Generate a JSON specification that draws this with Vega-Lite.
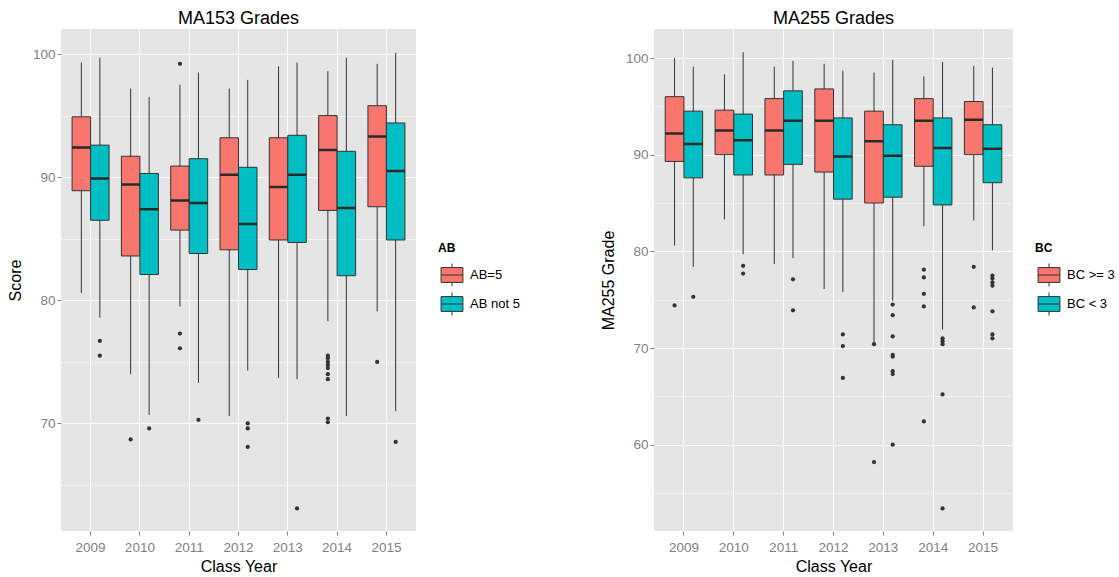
{
  "$schema": "https://vega.github.io/schema/vega-lite/v6.json",
  "background": "white",
  "padding": {"left": 7, "top": 10, "right": 5, "bottom": 5},
  "bounds": "flush",
  "spacing": 238,
  "datasets": {
    "ma153": [
      {"year": "2009", "group": "AB=5", "lower": 80.6, "q1": 88.9, "median": 92.4, "q3": 94.9, "upper": 99.3},
      {"year": "2009", "group": "AB not 5", "lower": 78.6, "q1": 86.5, "median": 89.9, "q3": 92.6, "upper": 99.7},
      {"year": "2010", "group": "AB=5", "lower": 74.0, "q1": 83.6, "median": 89.4, "q3": 91.7, "upper": 97.2},
      {"year": "2010", "group": "AB not 5", "lower": 70.7, "q1": 82.1, "median": 87.4, "q3": 90.3, "upper": 96.5},
      {"year": "2011", "group": "AB=5", "lower": 79.5, "q1": 85.7, "median": 88.1, "q3": 90.9, "upper": 97.5},
      {"year": "2011", "group": "AB not 5", "lower": 73.3, "q1": 83.8, "median": 87.9, "q3": 91.5, "upper": 98.5},
      {"year": "2012", "group": "AB=5", "lower": 70.6, "q1": 84.1, "median": 90.2, "q3": 93.2, "upper": 97.2},
      {"year": "2012", "group": "AB not 5", "lower": 74.3, "q1": 82.5, "median": 86.2, "q3": 90.8, "upper": 97.9},
      {"year": "2013", "group": "AB=5", "lower": 73.7, "q1": 84.9, "median": 89.2, "q3": 93.2, "upper": 99.0},
      {"year": "2013", "group": "AB not 5", "lower": 73.6, "q1": 84.7, "median": 90.2, "q3": 93.4, "upper": 99.3},
      {"year": "2014", "group": "AB=5", "lower": 78.3, "q1": 87.3, "median": 92.2, "q3": 95.0, "upper": 98.6},
      {"year": "2014", "group": "AB not 5", "lower": 70.6, "q1": 82.0, "median": 87.5, "q3": 92.1, "upper": 99.7},
      {"year": "2015", "group": "AB=5", "lower": 79.1, "q1": 87.6, "median": 93.3, "q3": 95.8, "upper": 99.2},
      {"year": "2015", "group": "AB not 5", "lower": 71.0, "q1": 84.9, "median": 90.5, "q3": 94.4, "upper": 100.1}
    ],
    "ma153out": [
      {"year": "2009", "group": "AB not 5", "value": 76.7},
      {"year": "2009", "group": "AB not 5", "value": 75.5},
      {"year": "2010", "group": "AB=5", "value": 68.7},
      {"year": "2010", "group": "AB not 5", "value": 69.6},
      {"year": "2011", "group": "AB=5", "value": 99.2},
      {"year": "2011", "group": "AB=5", "value": 77.3},
      {"year": "2011", "group": "AB=5", "value": 76.1},
      {"year": "2011", "group": "AB not 5", "value": 70.3},
      {"year": "2012", "group": "AB not 5", "value": 70.0},
      {"year": "2012", "group": "AB not 5", "value": 69.6},
      {"year": "2012", "group": "AB not 5", "value": 68.1},
      {"year": "2013", "group": "AB not 5", "value": 63.1},
      {"year": "2014", "group": "AB=5", "value": 75.5},
      {"year": "2014", "group": "AB=5", "value": 75.3},
      {"year": "2014", "group": "AB=5", "value": 75.0},
      {"year": "2014", "group": "AB=5", "value": 74.75},
      {"year": "2014", "group": "AB=5", "value": 74.5},
      {"year": "2014", "group": "AB=5", "value": 74.0},
      {"year": "2014", "group": "AB=5", "value": 73.6},
      {"year": "2014", "group": "AB=5", "value": 70.4},
      {"year": "2014", "group": "AB=5", "value": 70.1},
      {"year": "2015", "group": "AB=5", "value": 75.0},
      {"year": "2015", "group": "AB not 5", "value": 68.5}
    ],
    "ma255": [
      {"year": "2009", "group": "BC >= 3", "lower": 80.6, "q1": 89.3, "median": 92.2, "q3": 96.0, "upper": 100.0},
      {"year": "2009", "group": "BC < 3", "lower": 78.4, "q1": 87.6, "median": 91.1, "q3": 94.5, "upper": 99.1},
      {"year": "2010", "group": "BC >= 3", "lower": 83.3, "q1": 90.0, "median": 92.5, "q3": 94.6, "upper": 98.3},
      {"year": "2010", "group": "BC < 3", "lower": 79.7, "q1": 87.9, "median": 91.5, "q3": 94.2, "upper": 100.6},
      {"year": "2011", "group": "BC >= 3", "lower": 78.7, "q1": 87.9, "median": 92.5, "q3": 95.8, "upper": 99.1},
      {"year": "2011", "group": "BC < 3", "lower": 79.3, "q1": 89.0, "median": 93.5, "q3": 96.6, "upper": 99.7},
      {"year": "2012", "group": "BC >= 3", "lower": 76.1, "q1": 88.2, "median": 93.5, "q3": 96.8, "upper": 99.4},
      {"year": "2012", "group": "BC < 3", "lower": 75.8, "q1": 85.4, "median": 89.8, "q3": 93.8, "upper": 98.7},
      {"year": "2013", "group": "BC >= 3", "lower": 70.6, "q1": 85.0, "median": 91.4, "q3": 94.5, "upper": 98.5},
      {"year": "2013", "group": "BC < 3", "lower": 74.9, "q1": 85.6, "median": 89.9, "q3": 93.1, "upper": 99.8},
      {"year": "2014", "group": "BC >= 3", "lower": 82.6, "q1": 88.8, "median": 93.5, "q3": 95.8, "upper": 98.1},
      {"year": "2014", "group": "BC < 3", "lower": 71.9, "q1": 84.8, "median": 90.7, "q3": 93.8, "upper": 99.6},
      {"year": "2015", "group": "BC >= 3", "lower": 83.2, "q1": 90.0, "median": 93.6, "q3": 95.5, "upper": 99.2},
      {"year": "2015", "group": "BC < 3", "lower": 80.1, "q1": 87.1, "median": 90.6, "q3": 93.1, "upper": 99.0}
    ],
    "ma255out": [
      {"year": "2009", "group": "BC >= 3", "value": 74.4},
      {"year": "2009", "group": "BC < 3", "value": 75.3},
      {"year": "2010", "group": "BC < 3", "value": 78.5},
      {"year": "2010", "group": "BC < 3", "value": 77.7},
      {"year": "2011", "group": "BC < 3", "value": 77.1},
      {"year": "2011", "group": "BC < 3", "value": 73.9},
      {"year": "2012", "group": "BC < 3", "value": 71.4},
      {"year": "2012", "group": "BC < 3", "value": 70.2},
      {"year": "2012", "group": "BC < 3", "value": 66.9},
      {"year": "2013", "group": "BC >= 3", "value": 70.4},
      {"year": "2013", "group": "BC >= 3", "value": 58.2},
      {"year": "2013", "group": "BC < 3", "value": 74.5},
      {"year": "2013", "group": "BC < 3", "value": 73.4},
      {"year": "2013", "group": "BC < 3", "value": 71.2},
      {"year": "2013", "group": "BC < 3", "value": 69.3},
      {"year": "2013", "group": "BC < 3", "value": 69.1},
      {"year": "2013", "group": "BC < 3", "value": 67.6},
      {"year": "2013", "group": "BC < 3", "value": 67.3},
      {"year": "2013", "group": "BC < 3", "value": 60.0},
      {"year": "2014", "group": "BC >= 3", "value": 78.1},
      {"year": "2014", "group": "BC >= 3", "value": 77.3},
      {"year": "2014", "group": "BC >= 3", "value": 75.6},
      {"year": "2014", "group": "BC >= 3", "value": 74.3},
      {"year": "2014", "group": "BC >= 3", "value": 62.4},
      {"year": "2014", "group": "BC < 3", "value": 71.0},
      {"year": "2014", "group": "BC < 3", "value": 70.7},
      {"year": "2014", "group": "BC < 3", "value": 70.4},
      {"year": "2014", "group": "BC < 3", "value": 65.2},
      {"year": "2014", "group": "BC < 3", "value": 53.4},
      {"year": "2015", "group": "BC >= 3", "value": 78.4},
      {"year": "2015", "group": "BC >= 3", "value": 74.2},
      {"year": "2015", "group": "BC < 3", "value": 77.5},
      {"year": "2015", "group": "BC < 3", "value": 77.2},
      {"year": "2015", "group": "BC < 3", "value": 76.8},
      {"year": "2015", "group": "BC < 3", "value": 76.45},
      {"year": "2015", "group": "BC < 3", "value": 73.8},
      {"year": "2015", "group": "BC < 3", "value": 71.4},
      {"year": "2015", "group": "BC < 3", "value": 71.0}
    ]
  },
  "config": {
    "font": "Liberation Sans",
    "view": {"fill": "#E5E5E5", "stroke": null},
    "title": {"fontSize": 18, "fontWeight": "normal", "color": "#000000", "anchor": "middle", "frame": "group", "offset": 1},
    "axis": {
      "labelColor": "#7F7F7F", "labelFontSize": 13.5, "labelPadding": 2,
      "titleFontSize": 16, "titleFontWeight": "normal", "titleColor": "#000000",
      "tickColor": "#7F7F7F", "tickSize": 4, "domain": false,
      "gridColor": "#FFFFFF", "gridWidth": 1, "gridOpacity": 1
    },
    "legend": {
      "titleFontSize": 12, "titleFontWeight": "bold", "titleColor": "#000000",
      "labelFontSize": 13, "labelColor": "#000000", "labelOffset": 4,
      "symbolType": "M-0.81,-0.55H0.81V0.55H-0.81Z M-0.81,0H0.81 M0,-0.55V-0.85 M0,0.55V0.85",
      "symbolSize": 729, "symbolStrokeColor": "#333333", "symbolStrokeWidth": 1,
      "symbolOpacity": 1, "rowPadding": 1, "titlePadding": 6
    }
  },
  "hconcat": [
    {
      "width": 355,
      "height": 502,
      "title": "MA153 Grades",
      "resolve": {"axis": {"y": "independent"}},
      "layer": [
        {
          "data": {"name": "ma153"},
          "mark": {"type": "rule", "color": "#333333", "strokeWidth": 1},
          "encoding": {
            "x": {"field": "year", "type": "nominal", "sort": null,
                  "scale": {"type": "band", "paddingInner": 0.25, "paddingOuter": 0.225},
                  "axis": {"title": "Class Year", "labelAngle": 0, "bandPosition": 0.5, "grid": true, "labelPadding": 5, "titlePadding": 5}},
            "xOffset": {"field": "group", "type": "nominal", "scale": {"domain": ["AB=5", "AB not 5"], "paddingInner": 0, "paddingOuter": 0}},
            "y": {"field": "lower", "type": "quantitative",
                  "scale": {"domain": [61.27, 102.03], "nice": false, "zero": false},
                  "axis": {"title": "Score", "values": [70, 80, 90, 100], "grid": true, "titlePadding": 9}},
            "y2": {"field": "upper"}
          }
        },
        {
          "data": {"name": "ma153"},
          "mark": {"type": "bar", "stroke": "#333333", "strokeWidth": 1, "opacity": 1},
          "encoding": {
            "x": {"field": "year", "type": "nominal", "sort": null},
            "xOffset": {"field": "group", "type": "nominal"},
            "y": {"field": "q1", "type": "quantitative", "axis": null},
            "y2": {"field": "q3"},
            "color": {"field": "group", "type": "nominal",
                      "scale": {"domain": ["AB=5", "AB not 5"], "range": ["#F8766D", "#00BFC4"]},
                      "legend": {"title": "AB", "orient": "none", "legendX": 377, "legendY": 214}}
          }
        },
        {
          "data": {"name": "ma153"},
          "mark": {"type": "bar", "fill": null, "stroke": "#2a2a2a", "strokeWidth": 2.5},
          "encoding": {
            "x": {"field": "year", "type": "nominal", "sort": null},
            "xOffset": {"field": "group", "type": "nominal"},
            "y": {"field": "median", "type": "quantitative", "axis": null},
            "y2": {"field": "median"}
          }
        },
        {
          "data": {"name": "ma153out"},
          "mark": {"type": "point", "filled": true, "color": "#333333", "size": 18, "opacity": 1},
          "encoding": {
            "x": {"field": "year", "type": "nominal", "sort": null},
            "xOffset": {"field": "group", "type": "nominal"},
            "y": {"field": "value", "type": "quantitative",
                  "axis": {"orient": "right", "values": [65, 75, 85, 95], "grid": true, "gridColor": "#F2F2F2",
                           "labels": false, "ticks": false, "domain": false, "title": null}}
          }
        }
      ]
    },
    {
      "width": 359,
      "height": 502,
      "title": "MA255 Grades",
      "resolve": {"axis": {"y": "independent"}},
      "layer": [
        {
          "data": {"name": "ma255"},
          "mark": {"type": "rule", "color": "#333333", "strokeWidth": 1},
          "encoding": {
            "x": {"field": "year", "type": "nominal", "sort": null,
                  "scale": {"type": "band", "paddingInner": 0.25, "paddingOuter": 0.225},
                  "axis": {"title": "Class Year", "labelAngle": 0, "bandPosition": 0.5, "grid": true, "labelPadding": 5, "titlePadding": 5}},
            "xOffset": {"field": "group", "type": "nominal", "scale": {"domain": ["BC >= 3", "BC < 3"], "paddingInner": 0, "paddingOuter": 0}},
            "y": {"field": "lower", "type": "quantitative",
                  "scale": {"domain": [51.07, 103.0], "nice": false, "zero": false},
                  "axis": {"title": "MA255 Grade", "values": [60, 70, 80, 90, 100], "grid": true, "titlePadding": 9}},
            "y2": {"field": "upper"}
          }
        },
        {
          "data": {"name": "ma255"},
          "mark": {"type": "bar", "stroke": "#333333", "strokeWidth": 1, "opacity": 1},
          "encoding": {
            "x": {"field": "year", "type": "nominal", "sort": null},
            "xOffset": {"field": "group", "type": "nominal"},
            "y": {"field": "q1", "type": "quantitative", "axis": null},
            "y2": {"field": "q3"},
            "color": {"field": "group", "type": "nominal",
                      "scale": {"domain": ["BC >= 3", "BC < 3"], "range": ["#F8766D", "#00BFC4"]},
                      "legend": {"title": "BC", "orient": "none", "legendX": 381, "legendY": 214}}
          }
        },
        {
          "data": {"name": "ma255"},
          "mark": {"type": "bar", "fill": null, "stroke": "#2a2a2a", "strokeWidth": 2.5},
          "encoding": {
            "x": {"field": "year", "type": "nominal", "sort": null},
            "xOffset": {"field": "group", "type": "nominal"},
            "y": {"field": "median", "type": "quantitative", "axis": null},
            "y2": {"field": "median"}
          }
        },
        {
          "data": {"name": "ma255out"},
          "mark": {"type": "point", "filled": true, "color": "#333333", "size": 18, "opacity": 1},
          "encoding": {
            "x": {"field": "year", "type": "nominal", "sort": null},
            "xOffset": {"field": "group", "type": "nominal"},
            "y": {"field": "value", "type": "quantitative",
                  "axis": {"orient": "right", "values": [55, 65, 75, 85, 95], "grid": true, "gridColor": "#F2F2F2",
                           "labels": false, "ticks": false, "domain": false, "title": null}}
          }
        }
      ]
    }
  ],
  "resolve": {"scale": {"color": "independent", "y": "independent", "x": "independent", "xOffset": "independent"}, "legend": {"color": "independent"}}
}
